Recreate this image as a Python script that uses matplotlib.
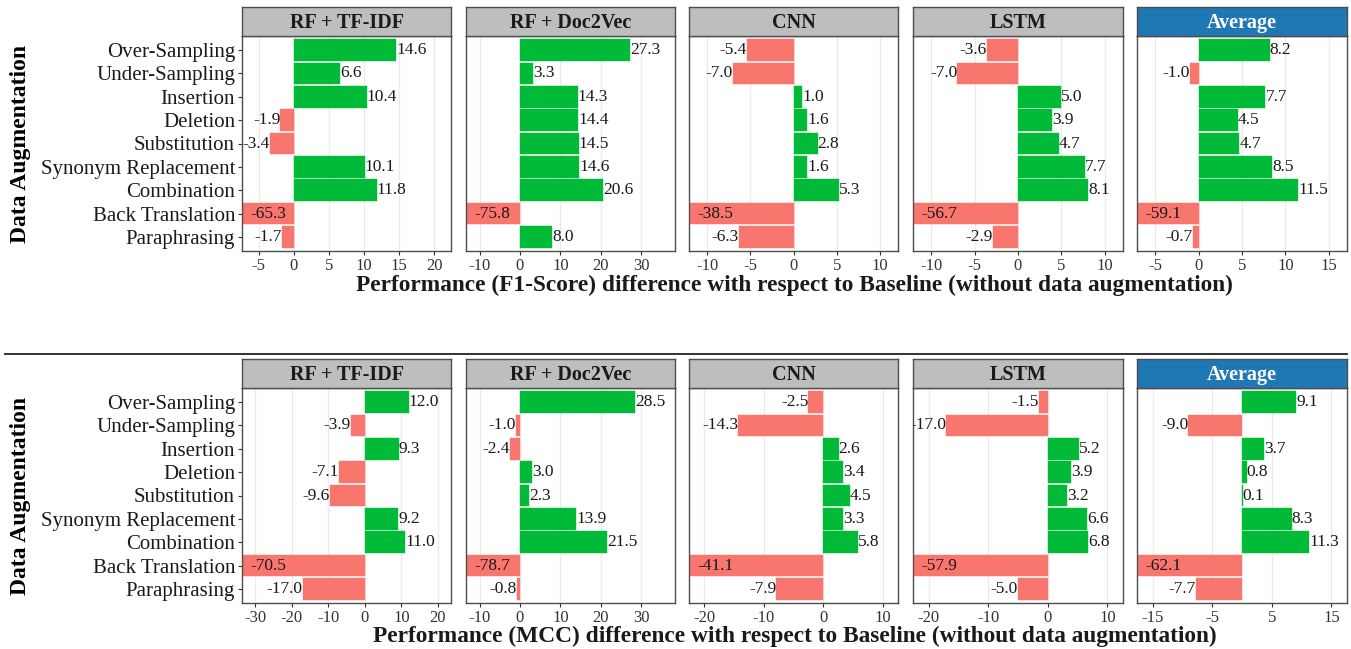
import matplotlib
matplotlib.use("Agg")
import matplotlib.pyplot as plt
from matplotlib.lines import Line2D

plt.rcParams['font.family'] = ['Liberation Serif', 'DejaVu Serif']

# data
categories = ["Over-Sampling", "Under-Sampling", "Insertion", "Deletion", "Substitution",
              "Synonym Replacement", "Combination", "Back Translation", "Paraphrasing"]
models = ["RF + TF-IDF", "RF + Doc2Vec", "CNN", "LSTM", "Average"]

f1_tfidf = [14.6, 6.6, 10.4, -1.9, -3.4, 10.1, 11.8, -65.3, -1.7]
f1_doc2vec = [27.3, 3.3, 14.3, 14.4, 14.5, 14.6, 20.6, -75.8, 8.0]
f1_cnn = [-5.4, -7.0, 1.0, 1.6, 2.8, 1.6, 5.3, -38.5, -6.3]
f1_lstm = [-3.6, -7.0, 5.0, 3.9, 4.7, 7.7, 8.1, -56.7, -2.9]
f1_avg = [8.2, -1.0, 7.7, 4.5, 4.7, 8.5, 11.5, -59.1, -0.7]

mcc_tfidf = [12.0, -3.9, 9.3, -7.1, -9.6, 9.2, 11.0, -70.5, -17.0]
mcc_doc2vec = [28.5, -1.0, -2.4, 3.0, 2.3, 13.9, 21.5, -78.7, -0.8]
mcc_cnn = [-2.5, -14.3, 2.6, 3.4, 4.5, 3.3, 5.8, -41.1, -7.9]
mcc_lstm = [-1.5, -17.0, 5.2, 3.9, 3.2, 6.6, 6.8, -57.9, -5.0]
mcc_avg = [9.1, -9.0, 3.7, 0.8, 0.1, 8.3, 11.3, -62.1, -7.7]

f1_rows = [f1_tfidf, f1_doc2vec, f1_cnn, f1_lstm, f1_avg]
mcc_rows = [mcc_tfidf, mcc_doc2vec, mcc_cnn, mcc_lstm, mcc_avg]

f1_lims = [(-7.35, 22.35), (-13.35, 38.35), (-12.1, 12.1), (-12.1, 12.1), (-7.1, 17.1)]
f1_ticks = [[-5, 0, 5, 10, 15, 20], [-10, 0, 10, 20, 30], [-10, -5, 0, 5, 10],
            [-10, -5, 0, 5, 10], [-5, 0, 5, 10, 15]]
mcc_lims = [(-33.6, 23.6), (-13.35, 38.35), (-22.6, 12.6), (-22.6, 12.6), (-17.6, 17.6)]
mcc_ticks = [[-30, -20, -10, 0, 10, 20], [-10, 0, 10, 20, 30], [-20, -10, 0, 10],
             [-20, -10, 0, 10], [-15, -5, 5, 15]]

GREEN = "#00BA38"
RED = "#F8766D"
W, H = 1351, 649

fig = plt.figure(figsize=(W / 100, H / 100), dpi=100)


def px(x0, y0, x1, y1):
    return [x0 / W, 1 - y1 / H, (x1 - x0) / W, (y1 - y0) / H]


panel_x = [(242, 451), (466, 675), (689, 898), (913, 1123), (1137, 1347)]


def draw_row(rows, lims, ticks, strip_top, top, bottom, xlabel, xlabel_y):
    for i, (vals, lim, tk) in enumerate(zip(rows, lims, ticks)):
        x0, x1 = panel_x[i]
        ax = fig.add_axes(px(x0, top, x1, bottom))
        ypos = list(range(len(categories)))
        colors = [GREEN if v >= 0 else RED for v in vals]
        ax.barh(ypos, vals, height=0.92, color=colors, edgecolor=colors, linewidth=0.3, zorder=2)
        ax.set_xlim(*lim)
        ax.set_ylim(len(categories) - 0.4, -0.6)
        ax.set_xticks(tk)
        ax.set_xticklabels([str(t) for t in tk], fontsize=12, color="#333333")
        ax.grid(axis="x", color="#EBEBEB", linewidth=1.0, zorder=0)
        ax.tick_params(axis="x", length=3, color="#333333", pad=2)
        if i == 0:
            ax.set_yticks(ypos)
            ax.set_yticklabels(categories, fontsize=15, color="#1a1a1a")
            ax.tick_params(axis="y", length=3, color="#333333", pad=2)
            ax.set_ylabel("Data Augmentation", fontsize=17, fontweight="bold", labelpad=7)
        else:
            ax.set_yticks([])
        for s in ax.spines.values():
            s.set_color("#4D4D4D")
            s.set_linewidth(1.0)
        for y, v in zip(ypos, vals):
            txt = f"{v:.1f}"
            if v >= 0:
                ax.annotate(txt, (v, y), xytext=(0, 0), textcoords="offset points",
                            ha="left", va="center", fontsize=12.5, color="#1a1a1a",
                            annotation_clip=False, clip_on=True)
            elif v < lim[0]:
                ax.annotate(txt, (lim[0], y), xytext=(6, 0), textcoords="offset points",
                            ha="left", va="center", fontsize=12.5, color="#1a1a1a",
                            annotation_clip=False, clip_on=True)
            else:
                ax.annotate(txt, (v, y), xytext=(0, 0), textcoords="offset points",
                            ha="right", va="center", fontsize=12.5, color="#1a1a1a",
                            annotation_clip=False, clip_on=True)
        # strip
        sax = fig.add_axes(px(x0, strip_top, x1, top))
        sax.set_xticks([])
        sax.set_yticks([])
        avg = models[i] == "Average"
        sax.set_facecolor("#1F77B4" if avg else "#BEBEBE")
        for s in sax.spines.values():
            s.set_color("#4D4D4D")
            s.set_linewidth(1.0)
        sax.text(0.5, 0.45, models[i], ha="center", va="center", fontsize=14.5,
                 fontweight="bold", color="white" if avg else "#1a1a1a",
                 transform=sax.transAxes)
    fig.text((242 + 1347) / 2 / W, 1 - xlabel_y / H, xlabel, ha="center", va="center",
             fontsize=16.8, fontweight="bold", color="#1a1a1a")


draw_row(f1_rows, f1_lims, f1_ticks, 7, 36, 251,
         "Performance (F1-Score) difference with respect to Baseline (without data augmentation)", 285)
draw_row(mcc_rows, mcc_lims, mcc_ticks, 359, 388, 603,
         "Performance (MCC) difference with respect to Baseline (without data augmentation)", 636)

fig.add_artist(Line2D([5 / W, 1347 / W], [1 - 354 / H, 1 - 354 / H], color="#222222", linewidth=1.3))

fig.savefig("out.png", dpi=100)
